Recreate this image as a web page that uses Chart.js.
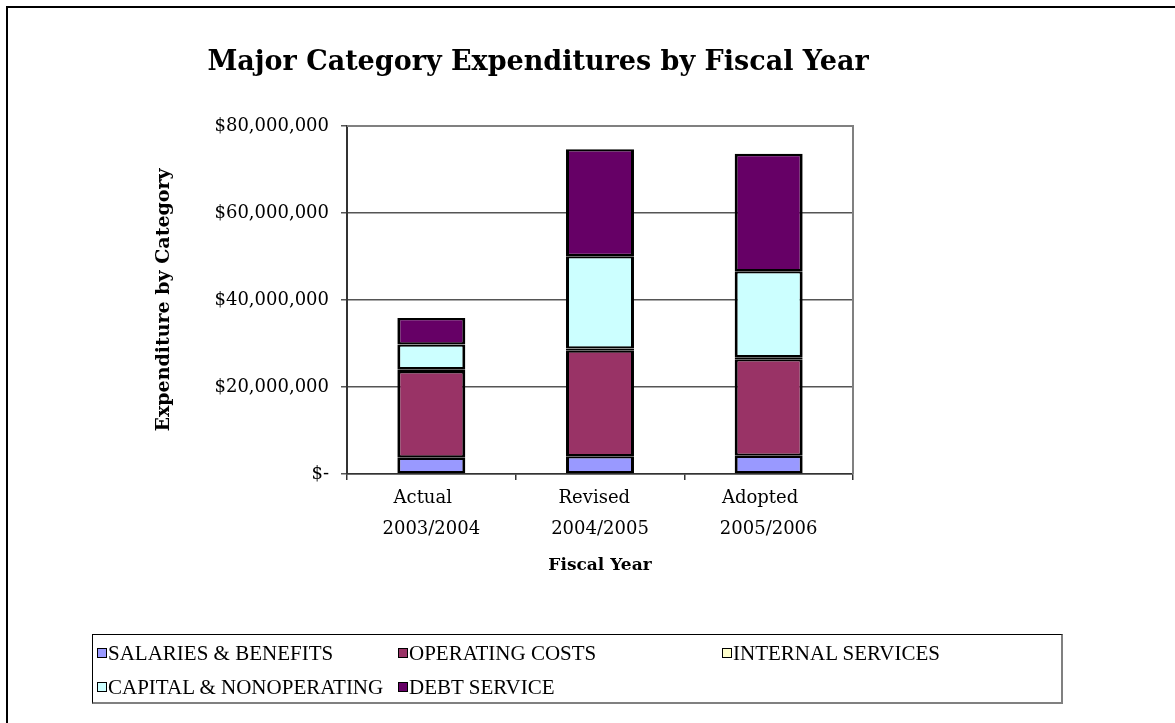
<!DOCTYPE html>
<html>
<head>
<meta charset="utf-8">
<script src="https://cdn.jsdelivr.net/npm/chart.js@4.4.0/dist/chart.umd.min.js"></script>
<style>
  body { margin: 0; width: 1175px; height: 723px; overflow: hidden; background: #fff; position: relative; }
  #frame { position: absolute; left: 6px; top: 6px; width: 1400px; height: 1000px; border-left: 2px solid #000; border-top: 2px solid #000; }
  #chart { position: absolute; left: 0; top: 0; }
  #title { position: absolute; top: 45px; left: 0; width: 1076px; text-align: center; font: bold 27px "DejaVu Serif", serif; color: #000; }
  #legend { position: absolute; left: 92px; top: 634px; width: 968px; height: 67px; border: 1px solid #000; border-right: 2px solid #808080; border-bottom: 2px solid #808080; box-sizing: content-box; }
  .key { position: absolute; display: flex; align-items: center; height: 22px; white-space: nowrap; font: 21px "Liberation Serif", serif; color: #000; }
  .key i { display: inline-block; width: 8px; height: 8px; border: 1.5px solid #000; margin-right: 1px; }
</style>
</head>
<body>
<div id="frame"></div>
<canvas id="chart" width="1175" height="723"></canvas>
<div id="title">Major Category Expenditures by Fiscal Year</div>
<div id="legend"></div>
<script>
// fiscal years (trailing spaces nudge the first line left like the spreadsheet labels)
const categories = [["Actual   ", "2003/2004"], ["Revised  ", "2004/2005"], ["Adopted   ", "2005/2006"]];

// expenditure per category, dollars
const salaries         = [3760000, 4080000, 4200000];
const operatingCosts   = [19900000, 24350000, 22200000];
const internalServices = [400000, 400000, 450000];
const capitalNonop     = [5700000, 21250000, 19750000];
const debtService      = [6100000, 24600000, 27000000];

const yTicks = [0, 20000000, 40000000, 60000000, 80000000];

const seriesNames  = ["SALARIES & BENEFITS", "OPERATING COSTS", "INTERNAL SERVICES", "CAPITAL & NONOPERATING", "DEBT SERVICE"];
const seriesData   = [salaries, operatingCosts, internalServices, capitalNonop, debtService];
const seriesColors = ["#9999FF", "#993366", "#FFFFCC", "#CCFFFF", "#660066"];

function money(v) {
    if (v == 0) return "$-";
    return "$" + v.toLocaleString("en-US");
}

// grey frame on the top and right of the plot area
const plotFrame = {
    id: "plotFrame",
    afterDraw(chart) {
        const a = chart.chartArea;
        const ctx = chart.ctx;
        ctx.save();
        ctx.strokeStyle = "#808080";
        ctx.lineWidth = 2;
        ctx.beginPath();
        ctx.moveTo(a.left, a.top);
        ctx.lineTo(a.right, a.top);
        ctx.lineTo(a.right, a.bottom);
        ctx.stroke();
        ctx.restore();
    }
};

let datasets = [];
for (let i = 0; i < seriesNames.length; i++) {
    datasets.push({
        label: seriesNames[i],
        data: seriesData[i],
        backgroundColor: seriesColors[i],
        borderColor: "#000",
        // every edge outlined, so thin segments come out as a solid black rule
        borderWidth: { top: 2.3, bottom: 2.3, left: 3, right: 3 },
        borderSkipped: false,
        inflateAmount: 0,
        barPercentage: 0.403,
        categoryPercentage: 1
    });
}

const serif = "DejaVu Serif";

new Chart(document.getElementById("chart"), {
    type: "bar",
    data: { labels: categories, datasets: datasets },
    plugins: [plotFrame],
    options: {
        responsive: false,
        animation: false,
        devicePixelRatio: 1,
        layout: { padding: { left: 150, right: 322, top: 126, bottom: 134 } },
        plugins: {
            legend: { display: false },
            title: { display: false },
            tooltip: { enabled: false }
        },
        scales: {
            x: {
                stacked: true,
                offset: true,
                grid: { offset: true, drawOnChartArea: false, drawTicks: true, tickLength: 6, color: "#333", lineWidth: 1.5 },
                border: { display: true, color: "#333", width: 1.5 },
                ticks: { color: "#000", padding: 3, maxRotation: 0, autoSkip: false, font: { family: serif, size: 18, lineHeight: 1.7 } },
                title: { display: true, text: "Fiscal Year", color: "#000", font: { family: serif, size: 17, weight: "bold" }, padding: { top: 0, bottom: 13 } },
                afterFit: s => { s.height = 115; }
            },
            y: {
                stacked: true,
                min: 0,
                max: 80000000,
                afterBuildTicks: s => { s.ticks = yTicks.map(v => ({ value: v })); },
                grid: { color: "#555", lineWidth: 1.5, tickLength: 6, drawTicks: true },
                border: { display: true, color: "#333", width: 2 },
                ticks: { color: "#000", padding: 12, font: { family: serif, size: 18 }, callback: v => money(v) },
                title: { display: true, text: "Expenditure by Category", color: "#000", font: { family: serif, size: 19, weight: "bold" }, padding: { top: 3, bottom: 0 } },
                afterFit: s => { s.width = 197; }
            }
        }
    }
});

// legend laid out in the same three-column grid as the chart's key box
const keySpots = [[4, 7], [305, 7], [629, 7], [4, 41], [305, 41]];
const legendBox = document.getElementById("legend");
seriesNames.forEach((name, i) => {
    const key = document.createElement("div");
    key.className = "key";
    key.style.left = keySpots[i][0] + "px";
    key.style.top = keySpots[i][1] + "px";
    const sw = document.createElement("i");
    sw.style.backgroundColor = seriesColors[i];
    key.appendChild(sw);
    key.appendChild(document.createTextNode(name));
    legendBox.appendChild(key);
});
</script>
</body>
</html>
